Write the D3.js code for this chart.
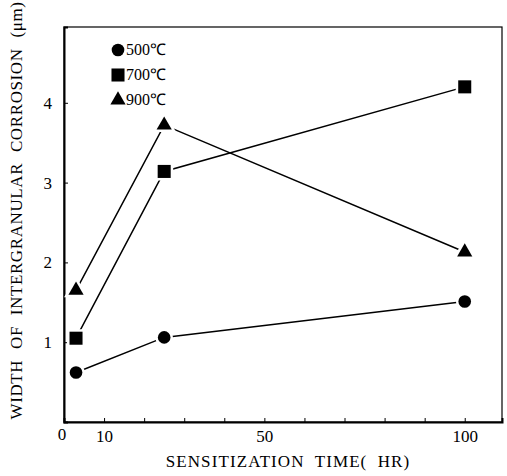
<!DOCTYPE html>
<html>
<head>
<meta charset="utf-8">
<script src="https://cdn.jsdelivr.net/npm/d3@7"></script>
<style>
    body { margin: 0; background: #fff; }
    .axis path, .axis line { stroke: #000; }
</style>
</head>
<body>
<div id="chart"></div>
<script>
// sensitization time (hr)
let hours = [3, 25, 100];
let series = ["500℃", "700℃", "900℃"];
let w500 = [0.62, 1.06, 1.51];
let w700 = [1.05, 3.14, 4.2];
let w900 = [1.65, 3.72, 2.13];
let xTickVals = [0, 10, 50, 100];
let yTickVals = [1, 2, 3, 4];

let serif = "Liberation Serif";

let margin = {top: 27, right: 5, bottom: 54, left: 64};
let width = 507 - margin.left - margin.right;
let height = 476 - margin.top - margin.bottom;

let svg = d3.select("#chart").append("svg")
    .attr("width", 507)
    .attr("height", 476)
    .append("g")
    .attr("transform", `translate(${margin.left}, ${margin.top})`);

let x = d3.scaleLinear().domain([0, 109.3]).range([0, width]);
let y = d3.scaleLinear().domain([0, 4.95]).range([height, 0]);

// frame
svg.append("rect")
    .attr("width", width).attr("height", height)
    .attr("fill", "none").attr("stroke", "#000").attr("stroke-width", 1.2);

// x axis: minor ticks every 10, labels only at some
let xAxis = d3.axisBottom(x)
    .tickValues(d3.range(10, 101, 10))
    .tickSize(-4)
    .tickFormat(d => xTickVals.includes(d) ? d : "");
let gx = svg.append("g")
    .attr("class", "axis")
    .attr("transform", `translate(0, ${height})`)
    .call(xAxis);
gx.select(".domain").attr("stroke-width", 2);
gx.selectAll("text").attr("dy", "1.0em");
gx.append("text")
    .attr("x", x(0) - 2).attr("y", 18)
    .attr("text-anchor", "middle")
    .attr("fill", "#000")
    .text("0");

let yAxis = d3.axisLeft(y)
    .tickValues(yTickVals)
    .tickFormat(d3.format("d"))
    .tickSize(-4)
    .tickPadding(12);
let gy = svg.append("g").attr("class", "axis").call(yAxis);
gy.select(".domain").attr("stroke-width", 2);

svg.selectAll(".axis text")
    .style("font-family", serif)
    .style("font-size", "17px");

// axis titles
svg.append("text")
    .attr("x", 224).attr("y", height + 45)
    .attr("text-anchor", "middle")
    .style("font-family", serif)
    .style("font-size", "17px")
    .style("letter-spacing", "1.1px")
    .style("word-spacing", "5px")
    .text("SENSITIZATION TIME( HR)");

svg.append("text")
    .attr("transform", `translate(-42, ${height / 2 - 14}) rotate(-90)`)
    .attr("text-anchor", "middle")
    .style("font-family", serif)
    .style("font-size", "17px")
    .style("letter-spacing", "0.6px")
    .style("word-spacing", "6px")
    .text("WIDTH OF INTERGRANULAR CORROSION (μm)");

// lines and markers
let allSeries = [w500, w700, w900];
let shapes = [d3.symbolCircle, d3.symbolSquare, d3.symbolTriangle];
let sizes = [125, 170, 100];

let line = d3.line()
    .x((d, i) => x(hours[i]))
    .y(d => y(d));

allSeries.forEach((vals, s) => {
    svg.append("path")
        .attr("d", line(vals))
        .attr("fill", "none")
        .attr("stroke", "#000")
        .attr("stroke-width", 1.5);

    svg.selectAll(".pt" + s).data(vals)
        .enter()
        .append("path")
        .attr("class", "pt" + s)
        .attr("d", d3.symbol().type(shapes[s]).size(sizes[s]))
        .attr("transform", (d, i) => `translate(${x(hours[i])}, ${y(d)})`)
        .attr("fill", "#000")
        .attr("stroke", "#fff")
        .attr("stroke-width", 5)
        .attr("paint-order", "stroke");
});

// legend
let legend = svg.append("g").attr("transform", "translate(54, 23)");
series.forEach((d, i) => {
    let row = legend.append("g").attr("transform", `translate(0, ${i * 25})`);
    row.append("path")
        .attr("d", d3.symbol().type(shapes[i]).size(sizes[i]))
        .attr("fill", "#000");
    row.append("text")
        .attr("x", 8).attr("y", 5)
        .style("font-family", serif)
        .style("font-size", "16px")
        .text(d);
});
</script>
</body>
</html>
